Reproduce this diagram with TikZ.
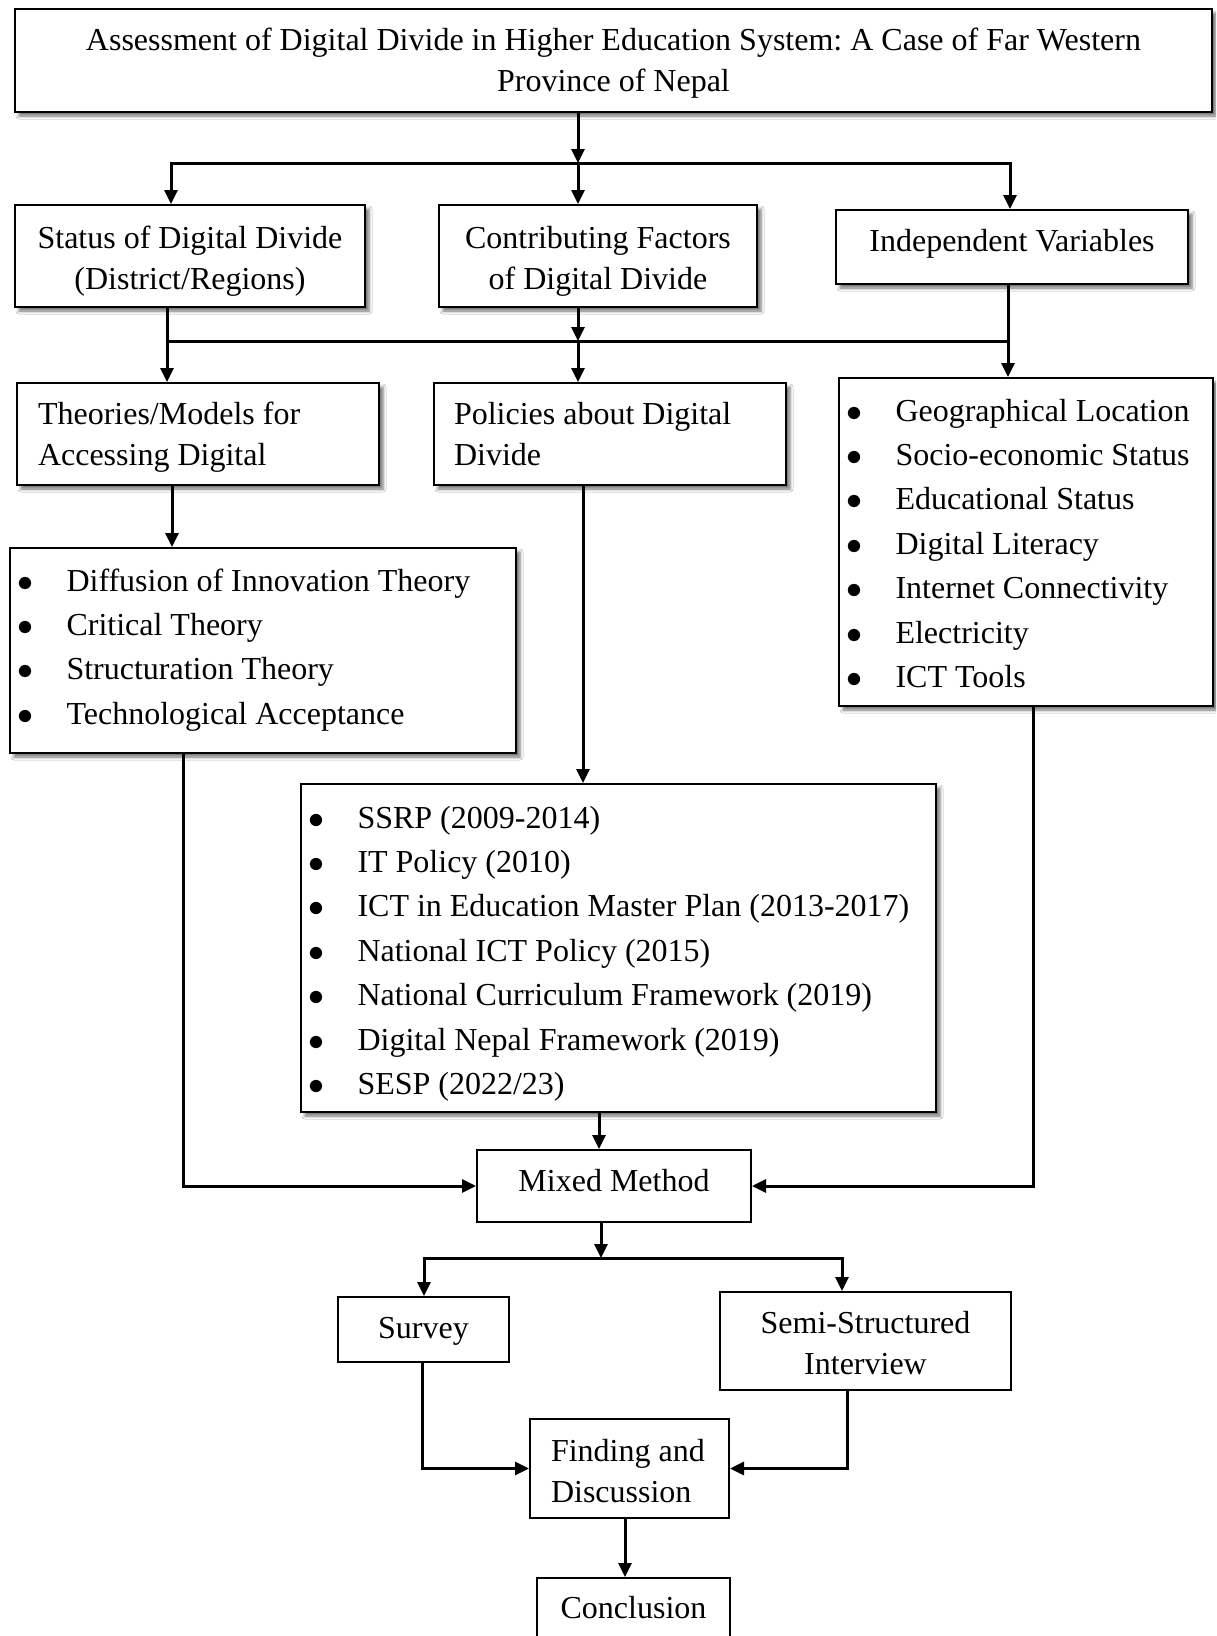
\RequirePackage{fix-cm}
\documentclass[tikz,border=0pt]{standalone}
\usepackage{fontspec}
\setmainfont{Liberation Serif}
\frenchspacing
\usetikzlibrary{arrows.meta,shadows.blur}
\newcommand\lstitem[1]{\makebox[49pt][l]{$\bullet$}#1}
\begin{document}
\begin{tikzpicture}[x=1pt,y=-1pt,
  box/.style={draw, line width=2pt, fill=white, inner sep=0pt, anchor=north west},
  shd/.style={blur shadow={shadow xshift=4pt, shadow yshift=-4pt, shadow blur radius=3pt, shadow opacity=55}},
  arr/.style={line width=3pt, -{Triangle[length=14pt,width=13pt]}},
  ln/.style={line width=3pt},
  lst/.style={align=flush left, font=\fontsize{32pt}{44.4pt}\selectfont, inner xsep=7.5pt},
  font=\fontsize{32pt}{41.5pt}\selectfont]
\path[use as bounding box, clip] (0,0) rectangle (1216,1636);
\fill[white] (0,0) rectangle (1216,1636);

% boxes
\node[box,shd,minimum width=1197pt,minimum height=103pt,text width=1197pt,align=flush center,text height=0pt,text depth=21pt] (title) at (14,8)
  {Assessment of Digital Divide in Higher Education System: A Case of Far Western\\Province of Nepal};
\node[box,shd,minimum width=350pt,minimum height=102pt,text width=350pt,align=flush center,text height=0pt,text depth=16pt] (status) at (14,204)
  {Status of Digital Divide\\(District/Regions)};
\node[box,shd,minimum width=318pt,minimum height=102pt,text width=318pt,align=flush center,text height=0pt,text depth=16pt] (contrib) at (438,204)
  {Contributing Factors\\of Digital Divide};
\node[box,shd,minimum width=352pt,minimum height=74pt,text width=352pt,align=flush center,text height=8pt,text depth=0pt] (indep) at (835,209)
  {Independent Variables};
\node[box,shd,minimum width=362pt,minimum height=102pt,text width=320pt,inner xsep=21pt,align=flush left,text height=0pt,text depth=20pt] (theories) at (16,382)
  {Theories/Models for\\Accessing Digital};
\node[box,shd,minimum width=352pt,minimum height=102pt,text width=312pt,inner xsep=20pt,align=flush left,text height=0pt,text depth=20pt] (policies) at (433,382)
  {Policies about Digital\\Divide};
\node[box,shd,lst,minimum width=374pt,minimum height=328pt,text width=359pt,text height=0pt,text depth=242pt] (varlist) at (838,377)
  {\lstitem{Geographical Location}\\\lstitem{Socio-economic Status}\\\lstitem{Educational Status}\\\lstitem{Digital Literacy}\\\lstitem{Internet Connectivity}\\\lstitem{Electricity}\\\lstitem{ICT Tools}};
\node[box,shd,lst,minimum width=506pt,minimum height=205pt,text width=491pt,text height=0pt,text depth=119pt] (theorylist) at (9,547)
  {\lstitem{Diffusion of Innovation Theory}\\\lstitem{Critical Theory}\\\lstitem{Structuration Theory}\\\lstitem{Technological Acceptance}};
\node[box,shd,lst,minimum width=635pt,minimum height=328pt,text width=620pt,text height=0pt,text depth=240pt] (policylist) at (300,783)
  {\lstitem{SSRP (2009-2014)}\\\lstitem{IT Policy (2010)}\\\lstitem{ICT in Education Master Plan (2013-2017)}\\\lstitem{National ICT Policy (2015)}\\\lstitem{National Curriculum Framework (2019)}\\\lstitem{Digital Nepal Framework (2019)}\\\lstitem{SESP (2022/23)}};
\node[box,minimum width=274pt,minimum height=72pt,text width=274pt,align=flush center,text height=10pt,text depth=0pt] (mixed) at (476,1149) {Mixed Method};
\node[box,minimum width=171pt,minimum height=65pt,text width=171pt,align=flush center,text height=17pt,text depth=0pt] (survey) at (337,1296) {Survey};
\node[box,minimum width=291pt,minimum height=98pt,text width=291pt,align=flush center,text height=0pt,text depth=16pt] (semi) at (719,1291) {Semi-Structured\\Interview};
\node[box,minimum width=199pt,minimum height=99pt,text width=157pt,inner xsep=21pt,align=flush left,text height=0pt,text depth=15pt] (finding) at (529,1418) {\mbox{Finding and}\\Discussion};
\node[box,minimum width=193pt,minimum height=61pt,text width=193pt,align=flush center,text height=19pt,text depth=0pt] (conclusion) at (536,1577) {Conclusion};

% junction coordinates
\coordinate (j1) at (578,163);
\coordinate (jL) at (171,163);
\coordinate (jR) at (1010,163);
\coordinate (k1) at (578,341);
\coordinate (kL) at (167,341);
\coordinate (kR) at (1008,341);
\coordinate (t1) at (172,500);
\coordinate (t2) at (183,900);
\coordinate (p1) at (583,600);
\coordinate (p2) at (599,1130);
\coordinate (v1) at (1033,900);
\coordinate (m1) at (601,1258);
\coordinate (mL) at (424,1258);
\coordinate (mR) at (842,1258);
\coordinate (s1) at (422,1400);
\coordinate (s2) at (847,1400);
\coordinate (f1) at (625,1540);

% connectors
\draw[arr] (title.south -| j1) -- (j1);
\draw[ln, line cap=rect] (jL) -- (jR);
\draw[arr] (jL) -- (status.north -| jL);
\draw[arr] (j1) -- (contrib.north -| j1);
\draw[arr] (jR) -- (indep.north -| jR);

\draw[ln] (status.south -| kL) -- (kL);
\draw[arr] (contrib.south -| k1) -- (k1);
\draw[ln] (indep.south -| kR) -- (kR);
\draw[ln, line cap=rect] (kL) -- (kR);
\draw[arr] (kL) -- (theories.north -| kL);
\draw[arr] (k1) -- (policies.north -| k1);
\draw[arr] (kR) -- (varlist.north -| kR);

\draw[arr] (theories.south -| t1) -- (theorylist.north -| t1);
\draw[arr] (policies.south -| p1) -- (policylist.north -| p1);
\draw[arr] (theorylist.south -| t2) |- (mixed.west);
\draw[arr] (varlist.south -| v1) |- (mixed.east);
\draw[arr] (policylist.south -| p2) -- (mixed.north -| p2);

\draw[arr] (mixed.south -| m1) -- (m1);
\draw[ln, line cap=rect] (mL) -- (mR);
\draw[arr] (mL) -- (survey.north -| mL);
\draw[arr] (mR) -- (semi.north -| mR);

\draw[arr] (survey.south -| s1) |- (finding.west);
\draw[arr] (semi.south -| s2) |- (finding.east);
\draw[arr] (finding.south -| f1) -- (conclusion.north -| f1);
\end{tikzpicture}
\end{document}
